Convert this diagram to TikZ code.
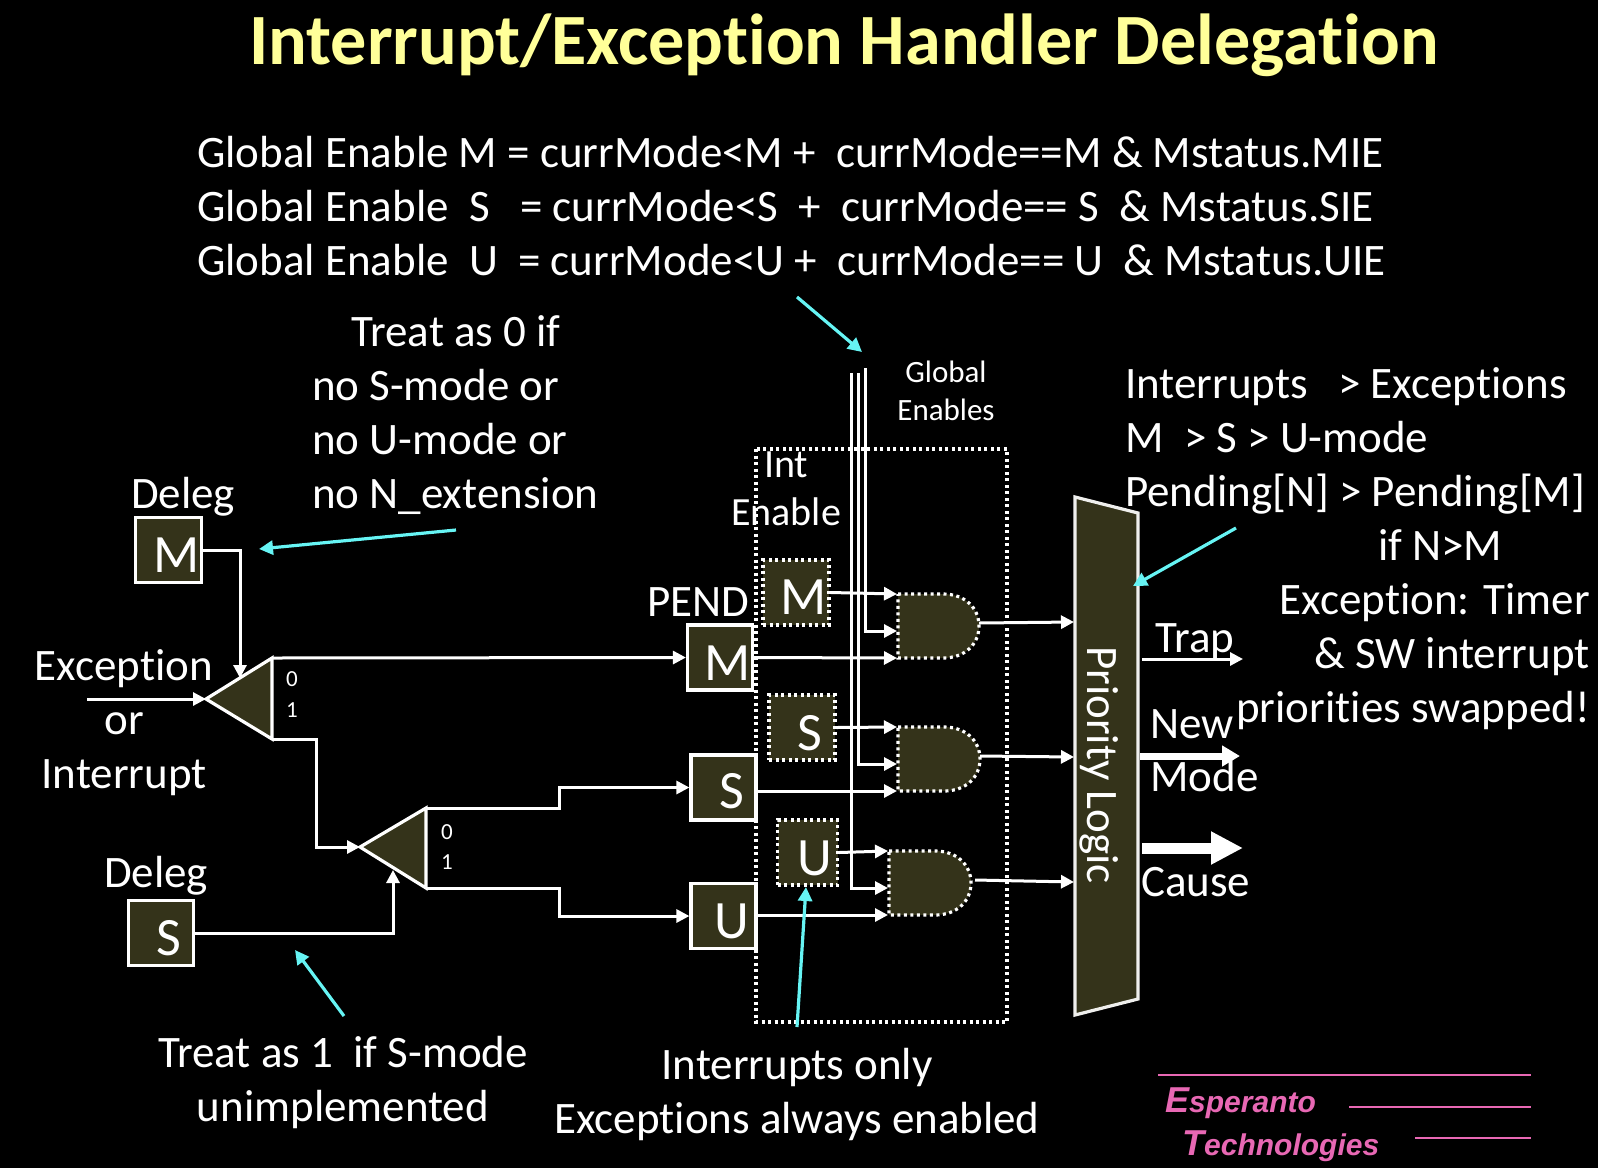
\documentclass[tikz,border=0pt]{standalone}
\usepackage{fontspec}
\setmainfont[Ligatures={NoCommon}]{Carlito}
\newfontfamily\logofont{Liberation Sans}
\usetikzlibrary{arrows.meta,calc}
\definecolor{olive}{HTML}{34331A}
\definecolor{cyanarrow}{HTML}{66F4F4}
\definecolor{titleyellow}{HTML}{FFFF99}
\definecolor{logopink}{HTML}{E868B4}
\tikzset{
  txt/.style={text=white,inner sep=0pt,anchor=base west,font=\fontsize{45}{53}\selectfont},
  txtc/.style={txt,anchor=base},
  smalltxt/.style={txtc,font=\fontsize{31}{37}\selectfont},
  bit/.style={txtc,font=\fontsize{23}{28}\selectfont},
  letter/.style={txtc,font=\fontsize{54}{60}\selectfont},
  regbox/.style={draw=white,fill=olive,line width=3.2pt,inner sep=0pt,minimum width=65pt,minimum height=65pt},
  enbox/.style={draw=white,fill=olive,line width=3.2pt,dash pattern=on 3pt off 3.5pt,inner sep=0pt},
  wire/.style={draw=white,line width=3pt,-{Triangle[length=13pt,width=13pt]}},
  note/.style={draw=cyanarrow,line width=3.2pt,-{Triangle[length=14pt,width=14pt]}},
  logoline/.style={draw=logopink,line width=1.6pt},
  logotxt/.style={text=logopink,inner sep=0pt,anchor=base west},
  gate/.style={draw=white,fill=olive,line width=3.2pt,dash pattern=on 3pt off 3.5pt},
  mux/.style={draw=white,fill=olive,line width=3.2pt,line join=miter},
}
\newcommand{\andgate}[4]{% name, left, top, right
  \path[gate] (#2,#3) -- (#4-36,#3) .. controls (#4-14,#3) and (#4,#3+14) .. (#4,#3+32)
     .. controls (#4,#3+50) and (#4-14,#3+64) .. (#4-36,#3+64) -- (#2,#3+64) -- cycle;
  \coordinate (#1a) at (#2-1,#3);
  \coordinate (#1b) at (#2-1,#3+37);
  \coordinate (#1c) at (#2-1,#3+64);
  \coordinate (#1o) at (#4,#3+29);
}
\begin{document}
\begin{tikzpicture}[x=1pt,y=-1pt]
\useasboundingbox (0,0) rectangle (1598,1168);
\fill[black] (0,0) rectangle (1598,1168);

% title
\node[txtc,text=titleyellow,font=\fontsize{72.2}{78}\selectfont\bfseries] (title) at (844,64) {Interrupt/Exception Handler Delegation};

% equations
\node[txt] (eqM) at (197,167) {Global Enable M = currMode<M +\ \ currMode==M \& Mstatus.MIE};
\node[txt] (eqS) at (197,221) {Global Enable\ \ S\ \ \ = currMode<S\ \ +\ \ currMode== S\ \ \& Mstatus.SIE};
\node[txt] (eqU) at (197,275) {Global Enable\ \ U\ \ = currMode<U +\ \ currMode== U\ \ \& Mstatus.UIE};

% treat-as-0 note
\node[txt] (t0a) at (351,346) {Treat as 0 if};
\node[txt] (t0b) at (312,400) {no S-mode or};
\node[txt] (t0c) at (312,454) {no U-mode or};
\node[txt] (t0d) at (312,508) {no N\_extension};

% right block
\node[txt] (r1) at (1125,398) {Interrupts\ \ \ > Exceptions};
\node[txt] (r2) at (1125,452) {M\ \ > S > U-mode};
\node[txt] (r3) at (1125,506) {Pending[N] > Pending[M]};
\node[txt] (r4) at (1378,560) {if N>M};
\node[txt,anchor=base east] (r5) at (1590,614) {Exception: Timer};
\node[txt,anchor=base east] (r6) at (1590,668) {\& SW interrupt};
\node[txt,anchor=base east] (r7) at (1590,722) {priorities swapped!};

% int-enable dotted frame
\draw[white,line width=3.2pt,dash pattern=on 3pt off 3.5pt] (756,449) rectangle (1007,1022);

% labels
\node[txtc] (dlgA) at (183,508) {Deleg};
\node[txtc] (dlgB) at (156,887) {Deleg};
\node[txtc] (ex1) at (124,680) {Exception};
\node[txtc] (ex2) at (124,734) {or};
\node[txtc] (ex3) at (124,788) {Interrupt};
\node[txtc] (pend) at (698,616) {PEND};
\node[smalltxt] (ge1) at (946,382) {Global};
\node[smalltxt] (ge2) at (946,420) {Enables};
\node[txt,font=\fontsize{40}{48}\selectfont] (ie1) at (764,477) {Int};
\node[txt,font=\fontsize{40}{48}\selectfont] (ie2) at (731,525) {Enable};

% boxes
\node[regbox,minimum width=66pt,minimum height=65pt] (delegM) at (168.5,550) {};
\node[regbox,minimum width=65pt,minimum height=65pt] (delegS) at (161,933) {};
\node[regbox] (pendM) at (720,657.5) {};
\node[regbox] (pendS) at (723.5,787.5) {};
\node[regbox] (pendU) at (723.5,916) {};
\node[enbox,minimum width=66pt,minimum height=65pt] (intM) at (796,592.5) {};
\node[enbox,minimum width=66pt,minimum height=65pt] (intS) at (802,727.5) {};
\node[enbox,minimum width=60pt,minimum height=65pt] (intU) at (807.5,852.5) {};

% muxes
\coordinate (m1a) at (206,699); \coordinate (m1t) at (272,658); \coordinate (m1b) at (272,739);
\coordinate (m2a) at (360,847); \coordinate (m2t) at (426,808); \coordinate (m2b) at (426,888);
\path[mux] (m1a) -- (m1t) -- (m1b) -- cycle;
\path[mux] (m2a) -- (m2t) -- (m2b) -- cycle;
\coordinate (m1s) at (240,678);
\coordinate (m2s) at (393,870);
\coordinate (inp) at (87,699);

% AND gates
\andgate{ga}{898}{594}{979}
\andgate{gb}{898}{727}{980}
\andgate{gc}{889}{851}{971}

% global-enable buses
\coordinate (busa) at (865,368);
\coordinate (busb) at (858,373);
\coordinate (busc) at (851.5,373);
\draw[wire] (busa) |- (gab);
\draw[wire] (busb) |- (gbb);
\draw[wire] (busc) |- (gcb);

% left wiring
\draw[wire] (delegM.east) -| (m1s);
\draw[wire] (inp) -- (m1a);
\draw[wire] (m1t) -- (pendM.west);
\draw[wire] (m1b) -- (316,739) |- (m2a);
\draw[wire] (delegS.east) -| (m2s);
\draw[wire] (m2t) -- (559,808) |- (pendS.west);
\draw[wire] (m2b) -- (559,888) |- (pendU.west);
\node[bit] (b0a) at (292,686) {0};
\node[bit] (b1a) at (292,717) {1};
\node[bit] (b0b) at (447,839) {0};
\node[bit] (b1b) at (447,869) {1};

% gate inputs
\draw[wire] (intM.east) -- (gaa);
\draw[wire] (pendM.east) -- (gac);
\draw[wire] (intS.east) -- (gba);
\draw[wire] (pendS.east |- gbc) -- (gbc);
\draw[wire] (intU.east) -- (gca);
\draw[wire] (pendU.east |- gcc) -- (gcc);

% priority logic
\coordinate (pl1) at (1075,497); \coordinate (pl2) at (1138,513);
\coordinate (pl3) at (1138,999); \coordinate (pl4) at (1075,1015);
\path[draw=white!92!olive,fill=olive,line width=3.2pt] (pl1) -- (pl2) -- (pl3) -- (pl4) -- cycle;
\node[txtc,font=\fontsize{45}{50}\selectfont,rotate=-90,anchor=base] (plt) at (1087,765) {Priority Logic};

% gate outputs
\coordinate (pa) at (1074,622); \coordinate (pb) at (1074,757); \coordinate (pc) at (1074,882);
\draw[wire] (gao) -- (pa);
\draw[wire] (gbo) -- (pb);
\draw[wire] ($(gco)+(4,0)$) -- (pc);

% outputs
\coordinate (trap0) at (1142,659); \coordinate (trap1) at (1243,659);
\coordinate (mode0) at (1140,756); \coordinate (mode1) at (1240,756);
\coordinate (cause0) at (1142,848); \coordinate (cause1) at (1243,848);
\draw[draw=white,line width=3pt,-{Triangle[length=13pt,width=13pt]}] (trap0) -- (trap1);
\draw[draw=white,line width=7pt,-{Triangle[length=18pt,width=20pt]}] (mode0) -- (mode1);
\draw[draw=white,line width=11pt,-{Triangle[length=32pt,width=31pt]}] (cause0) -- (cause1);
\node[txt] (trapt) at (1155,652) {Trap};
\node[txt] (newt) at (1150,738) {New};
\node[txt] (modet) at (1150,791) {Mode};
\node[txt] (causet) at (1141,896) {Cause};

% letters
\node[letter] (lDM) at (177,572) {M};
\node[letter] (lDS) at (169,955) {S};
\node[letter] (lPM) at (728,680) {M};
\node[letter] (lPS) at (732,808) {S};
\node[letter] (lPU) at (732,938) {U};
\node[letter] (lIM) at (804,614) {M};
\node[letter] (lIS) at (810,750) {S};
\node[letter] (lIU) at (815,875) {U};

% cyan notes
\coordinate (n1a) at (797,297); \coordinate (n1b) at (862,352);
\coordinate (n2a) at (456,530); \coordinate (n2b) at (259,549);
\coordinate (n3a) at (1236,528); \coordinate (n3b) at (1133,586);
\coordinate (n4a) at (344,1016); \coordinate (n4b) at (295,950);
\coordinate (n5a) at (797,1027); \coordinate (n5b) at (806,887);
\draw[note] (n1a) -- (n1b);
\draw[note] (n2a) -- (n2b);
\draw[note] (n3a) -- (n3b);
\draw[note] (n4a) -- (n4b);
\draw[note] (n5a) -- (n5b);

% bottom notes
\node[txtc] (b1) at (343,1067) {Treat as 1\ \ if S-mode};
\node[txtc] (b2) at (343,1121) {unimplemented};
\node[txtc] (b3) at (797,1079) {Interrupts only};
\node[txtc] (b4) at (797,1133) {Exceptions always enabled};

% logo
\coordinate (l1a) at (1158,1075); \coordinate (l1b) at (1531,1075);
\coordinate (l2a) at (1349,1107); \coordinate (l2b) at (1531,1107);
\coordinate (l3a) at (1415,1138); \coordinate (l3b) at (1531,1138);
\draw[logoline] (l1a) -- (l1b);
\draw[logoline] (l2a) -- (l2b);
\draw[logoline] (l3a) -- (l3b);
\node[logotxt] (lgE) at (1165,1112) {\logofont\bfseries\itshape\fontsize{36}{40}\selectfont E\fontsize{30}{40}\selectfont speranto};
\node[logotxt] (lgT) at (1182,1155) {\logofont\bfseries\itshape\fontsize{36}{40}\selectfont T\fontsize{30}{40}\selectfont echnologies};
\end{tikzpicture}
\end{document}
